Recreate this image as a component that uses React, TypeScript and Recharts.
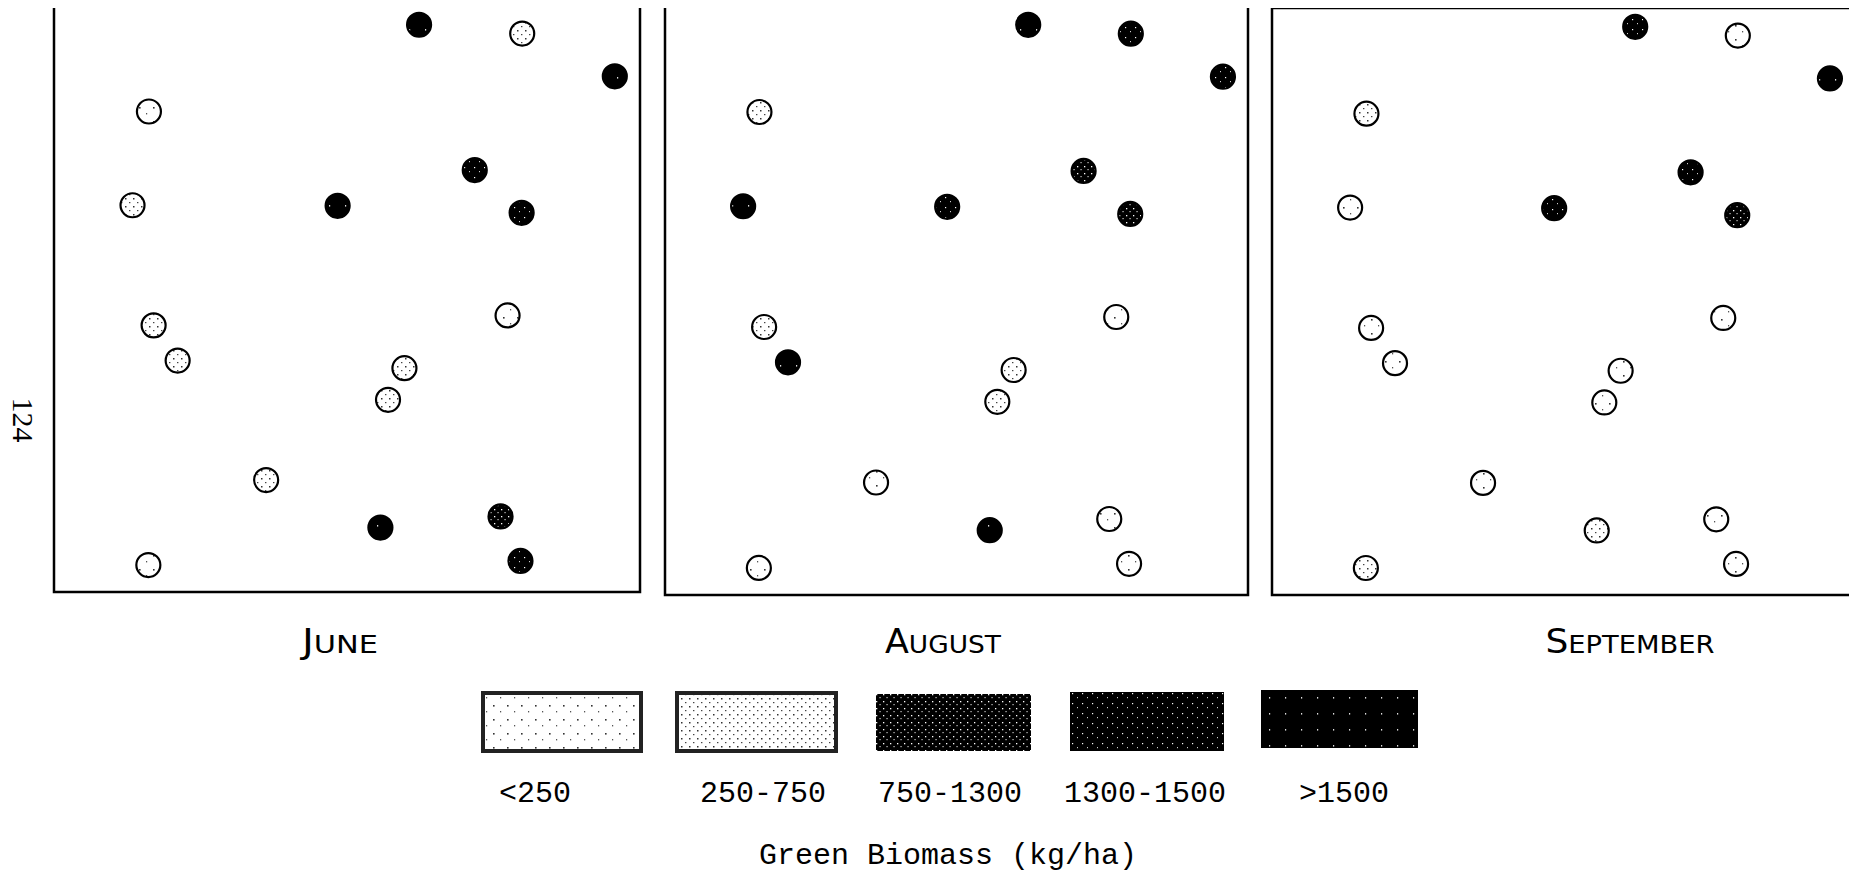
import React from 'react';
import { ScatterChart, Scatter, XAxis, YAxis, ReferenceArea } from 'recharts';

// Sampling sites (percent of plot width / height from the top-left corner)
const SITE_X = [62.3, 79.9, 95.7, 16.2, 71.8, 13.4, 48.4, 79.8, 77.4, 17.0, 21.1, 59.8, 57.0, 36.2, 55.7, 76.2, 79.6, 16.1];
const SITE_Y = [3.2, 4.7, 12.0, 18.0, 28.0, 34.0, 34.1, 35.3, 52.8, 54.5, 60.5, 61.8, 67.2, 80.9, 89.0, 87.1, 94.7, 95.4];

// Biomass class index per site (0 "<250" ... 4 ">1500")
const JUNE_CLASS = [4, 1, 4, 0, 3, 1, 4, 3, 0, 1, 1, 1, 1, 1, 4, 2, 3, 0];
const AUGUST_CLASS = [4, 3, 3, 1, 2, 4, 3, 2, 0, 1, 4, 1, 1, 0, 4, 0, 0, 0];
const SEPTEMBER_CLASS = [3, 0, 4, 1, 3, 0, 3, 2, 0, 0, 0, 0, 0, 0, 1, 0, 0, 1];

const MONTHS = ['June', 'August', 'September'];
const MONTH_CLASSES = [JUNE_CLASS, AUGUST_CLASS, SEPTEMBER_CLASS];
const BIOMASS_CLASSES = ['<250', '250-750', '750-1300', '1300-1500', '>1500'];
const LEGEND_TITLE = 'Green Biomass (kg/ha)';
const PAGE_NUMBER = '124';

// ---- layout / style (not data) ----
const PANEL_BOX = [
  { x: 54, y: 6, w: 586, h: 586, labelX: 340, labelW: 76 },
  { x: 665, y: 6, w: 583, h: 589, labelX: 943, labelW: 116 },
  { x: 1272, y: 8, w: 583, h: 587, labelX: 1630, labelW: 169 },
];
const LABEL_BASELINE = 653;
const SWATCH_BOX = [
  { x: 483, y: 693, w: 158, h: 58 },
  { x: 677, y: 693, w: 159, h: 58 },
  { x: 876, y: 694, w: 155, h: 57 },
  { x: 1070, y: 692, w: 154, h: 59 },
  { x: 1261, y: 690, w: 157, h: 58 },
];
const SWATCH_LABEL_X = [535, 763, 950, 1145, 1344];
const PAD = 2;
const FILLS = ['url(#bm0)', 'url(#bm1)', 'url(#bm2)', 'url(#bm3)', 'url(#bm4)'];

const mono = "'Liberation Mono', 'DejaVu Sans Mono', monospace";
const narrow = "'Liberation Sans Narrow', 'DejaVu Sans Condensed', 'Liberation Sans', sans-serif";

function makeShape(fill: string) {
  return (props: any) => (
    <circle cx={props.cx} cy={props.cy} r={12} fill={fill} stroke="#000" strokeWidth={2.2} />
  );
}

function Panel({ idx }: { idx: number }) {
  const box = PANEL_BOX[idx];
  const classes = MONTH_CLASSES[idx];
  const data = SITE_X.map((x, i) => ({ x, y: SITE_Y[i], cls: classes[i] }));
  return (
    <div style={{ position: 'absolute', left: box.x - PAD, top: box.y - PAD }}>
      <ScatterChart
        width={box.w + PAD * 2}
        height={box.h + PAD * 2}
        margin={{ top: PAD, right: PAD, bottom: PAD, left: PAD }}
      >
        <XAxis type="number" dataKey="x" domain={[0, 100]} hide />
        <YAxis type="number" dataKey="y" domain={[0, 100]} reversed hide />
        <ReferenceArea x1={0} x2={100} y1={0} y2={100} fill="none" fillOpacity={0} stroke="#000" strokeWidth={2.5} />
        {BIOMASS_CLASSES.map((c, k) => (
          <Scatter
            key={c}
            name={c}
            data={data.filter((d) => d.cls === k)}
            isAnimationActive={false}
            shape={makeShape(FILLS[k])}
          />
        ))}
      </ScatterChart>
    </div>
  );
}

function MonthLabel({ idx }: { idx: number }) {
  const box = PANEL_BOX[idx];
  const word = MONTHS[idx].toUpperCase();
  return (
    <text
      x={box.labelX}
      y={LABEL_BASELINE}
      textAnchor="middle"
      fontFamily={narrow}
      fill="#000"
      textLength={box.labelW}
      lengthAdjust="spacingAndGlyphs"
    >
      <tspan fontSize={33}>{word[0]}</tspan>
      <tspan fontSize={25}>{word.slice(1)}</tspan>
    </text>
  );
}

export default function App() {
  return (
    <div style={{ position: 'relative', left: -8, top: -8, width: 1841, height: 863 }}>
      <svg width={1857} height={879} style={{ position: 'absolute', left: 0, top: 0 }}>
        <defs>
          <pattern id="bm0" width="14" height="14" patternUnits="userSpaceOnUse">
            <rect width="14" height="14" fill="#fff" />
            <rect x="3" y="5" width="1.6" height="1.6" fill="#333" />
            <rect x="10" y="11" width="1.2" height="1.4" fill="#555" />
          </pattern>
          <pattern id="bm1" width="8" height="8" patternUnits="userSpaceOnUse">
            <rect width="8" height="8" fill="#fff" />
            <rect x="1" y="2" width="1.5" height="1.5" fill="#333" />
            <rect x="5" y="6" width="1.4" height="1.2" fill="#444" />
          </pattern>
          <pattern id="bm2" width="7" height="7" patternUnits="userSpaceOnUse">
            <rect width="7" height="7" fill="#000" />
            <rect x="1" y="1" width="1.3" height="1.3" fill="#fff" />
            <rect x="4.5" y="4" width="1.1" height="1.2" fill="#ddd" />
          </pattern>
          <pattern id="bm3" width="10" height="10" patternUnits="userSpaceOnUse">
            <rect width="10" height="10" fill="#000" />
            <rect x="2" y="3" width="1.2" height="1.2" fill="#fff" />
            <rect x="7" y="7" width="1" height="1.2" fill="#ccc" />
          </pattern>
          <pattern id="bm4" width="16" height="16" patternUnits="userSpaceOnUse">
            <rect width="16" height="16" fill="#000" />
            <rect x="5" y="9" width="1.2" height="1.6" fill="#ddd" />
          </pattern>
        </defs>

        <text
          x={0}
          y={0}
          transform="translate(13,420) rotate(90)"
          textAnchor="middle"
          fontFamily="'Liberation Serif', serif"
          fontSize={30}
          fill="#000"
        >
          {PAGE_NUMBER}
        </text>

        {MONTHS.map((m, i) => (
          <MonthLabel key={m} idx={i} />
        ))}

        {BIOMASS_CLASSES.map((c, k) => {
          const b = SWATCH_BOX[k];
          return (
            <g key={c}>
              <rect
                x={b.x}
                y={b.y}
                width={b.w}
                height={b.h}
                fill={FILLS[k]}
                stroke={k < 2 ? '#222' : 'none'}
                strokeWidth={k < 2 ? 4 : 0}
              />
              <text x={SWATCH_LABEL_X[k]} y={802} textAnchor="middle" fontFamily={mono} fontSize={30} fill="#000">
                {c}
              </text>
            </g>
          );
        })}
        <text x={948} y={864} textAnchor="middle" fontFamily={mono} fontSize={30} fill="#000">
          {LEGEND_TITLE}
        </text>
      </svg>
      {MONTHS.map((m, i) => (
        <Panel key={m} idx={i} />
      ))}
    </div>
  );
}
